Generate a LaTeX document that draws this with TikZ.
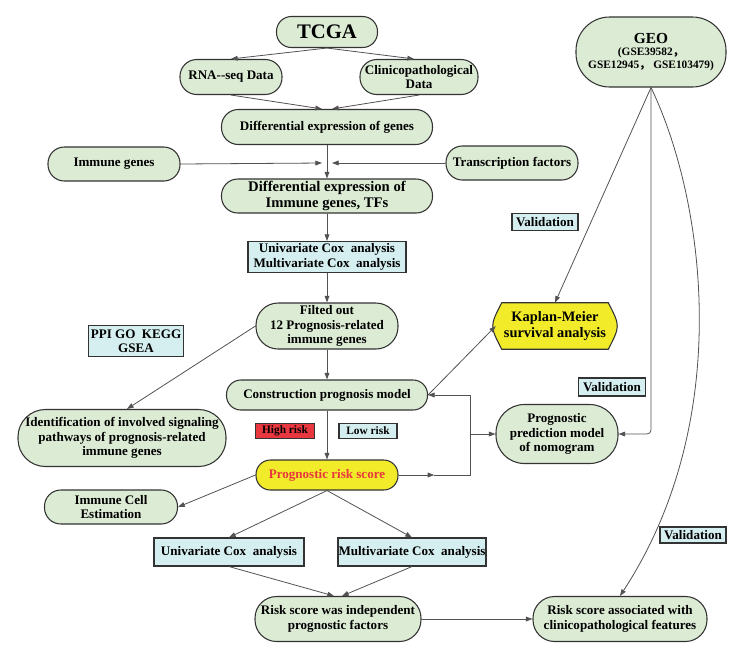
\documentclass[tikz,border=0pt]{standalone}
\usepackage{fontspec}
\setmainfont{Liberation Serif}
\newfontfamily\cjk{Noto Sans CJK SC}
\usetikzlibrary{arrows.meta,positioning,calc,backgrounds}
\definecolor{boxgreen}{HTML}{DCEBD4}
\definecolor{boxcyan}{HTML}{D5EEF0}
\definecolor{kmyellow}{HTML}{F2EB2A}
\definecolor{riskred}{HTML}{E8373E}
\definecolor{edge}{HTML}{333333}

\tikzset{
  st/.style 2 args={draw=edge, fill=boxgreen, line width=0.8pt, inner sep=0pt, align=center,
    font=\bfseries\fontsize{9.8}{10.8}\selectfont,
    minimum width=#1*0.75pt, minimum height=#2*0.75pt, rounded corners=#2*0.36pt},
  bx/.style 2 args={draw=edge, fill=boxcyan, line width=0.8pt, inner sep=0pt, align=center,
    font=\bfseries\fontsize{9.8}{10.8}\selectfont,
    minimum width=#1*0.75pt, minimum height=#2*0.75pt},
  conn/.style={draw=edge!85, line width=0.6pt},
  arr/.style={conn, -{Triangle[length=5pt,width=3.6pt]}},
}

\begin{document}
\begin{tikzpicture}[x=0.75pt,y=-0.75pt]
  \useasboundingbox (0,0) rectangle (756,654);

  % TCGA side
  \node[st={101}{31}, font=\bfseries\fontsize{15.5}{17}\selectfont] (tcga) at (327,32) {TCGA};
  \node[st={102}{35}] (rna) at (231,77) {RNA-{}-seq Data};
  \node[st={118}{35}] (clin) at (419,77) {Clinicopathological\\Data};
  \node[st={211}{35}] (dg) at (327,127) {Differential expression of genes};
  \node[st={132}{34}] (imm) at (114,164) {Immune genes};
  \node[st={132}{34}] (tf) at (512,163) {Transcription factors};
  \coordinate (jn) at (327,163);
  \node[st={211}{34}, font=\bfseries\fontsize{11}{12}\selectfont] (di) at (327,196) {Differential expression of\\Immune genes, TFs};
  \node[bx={158}{31}] (cox) at (327,257) {Univariate Cox~ analysis\\Multivariate Cox~ analysis};
  \node[st={142}{46}] (filt) at (327,326) {Filted out\\12 Prognosis-related\\immune genes};
  \node[bx={95}{31}] (ppi) at (136,341) {PPI GO~ KEGG\\GSEA};
  \node[st={201}{30}] (cons) at (327,395) {Construction prognosis model};
  \node[st={208}{57}] (ident) at (122,438) {Identification of involved signaling\\pathways of prognosis-related\\immune genes};
  \node[bx={59}{15}, fill=riskred, font=\bfseries\fontsize{8.5}{9}\selectfont] (high) at (285,431) {High risk};
  \node[bx={58}{15}, font=\bfseries\fontsize{8.5}{9}\selectfont] (low) at (368,431) {Low risk};
  \node[st={142}{30}, fill=kmyellow, text=riskred] (prog) at (327,475) {Prognostic risk score};
  \node[st={133}{34}] (ice) at (111,507) {Immune Cell\\Estimation};
  \node[bx={150}{28}] (uni) at (229,552) {Univariate Cox~ analysis};
  \node[bx={148}{28}] (multi) at (412,552) {Multivariate Cox~ analysis};
  \node[st={166}{45}] (indep) at (338,619) {Risk score was independent\\prognostic factors};
  \node[st={174}{45}] (assoc) at (620,619) {Risk score associated with\\clinicopathological features};

  % GEO side
  \node[st={150}{70}, font=\bfseries\fontsize{8.5}{9.5}\selectfont] (geo) at (651,52)
    {{\fontsize{11.5}{12}\selectfont GEO}\\(GSE39582{\cjk ，}\\GSE12945{\cjk ，} GSE103479)};
  \node[inner sep=0pt, align=center, minimum width=118*0.75pt, minimum height=46*0.75pt,
    font=\bfseries\fontsize{10.8}{12}\selectfont] (km) at (555,326) {Kaplan-Meier\\survival analysis};
  \begin{scope}[on background layer]
    \filldraw[draw=edge, fill=kmyellow, line width=0.8pt]
      ([xshift=4.5pt]km.north west) -- ([xshift=-4.5pt]km.north east)
      .. controls ([xshift=4.5pt]km.east) .. ([xshift=-4.5pt]km.south east)
      -- ([xshift=4.5pt]km.south west)
      .. controls ([xshift=-4.5pt]km.west) .. ([xshift=4.5pt]km.north west) -- cycle;
  \end{scope}
  \node[st={122}{59}] (nomo) at (557,434) {Prognostic\\prediction model\\of nomogram};
  \node[bx={66}{17}] (val1) at (545,222) {Validation};
  \node[bx={67}{18}] (val2) at (612,387) {Validation};
  \node[bx={66}{16}] (val3) at (693,535) {Validation};

  % connectors
  \draw[arr] (tcga.south) -- (rna.north);
  \draw[arr] (tcga.south) -- ($(clin.north)+(-5,0)$);
  \draw[arr] (rna.south) -- ($(dg.north)+(-5,0)$);
  \draw[arr] (clin.south) -- ($(dg.north)+(5,0)$);
  \draw[arr] (imm.east) -- ($(jn)+(-5,0)$);
  \draw[arr] (tf.west) -- ($(jn)+(5,0)$);
  \draw[arr] (dg.south) -- (di.north);
  \draw[arr] (di.south) -- (cox.north);
  \draw[arr] (cox.south) -- (filt.north);
  \draw[arr] (filt.south) -- (cons.north);
  \draw[arr] (filt.west) -- ($(ident.north)+(5,0)$);
  \draw[arr] (cons.south) -- (prog.north);
  \draw[arr] (cons.east) -- (km.west);
  \draw[arr] (prog.west) -- (ice.east);
  \draw[arr] (prog.south) -- (uni.north);
  \draw[arr] (prog.south) -- (multi.north);
  \draw[arr] (uni.south) -- ($(indep.north)+(-4,0)$);
  \draw[arr] (multi.south) -- ($(indep.north)+(4,0)$);
  \draw[arr] (indep.east) -- (assoc.west);

  % feedback loop
  \coordinate (lpA) at (470,475);
  \coordinate (lpB) at (470,395);
  \coordinate (lpC) at (470,434);
  \draw[arr] (prog.east) -- ($(prog.east)!0.5!(lpA)$);
  \draw[conn] ($(prog.east)!0.5!(lpA)$) -- (lpA) -- (lpB);
  \draw[arr] (lpB) -- (cons.east);
  \draw[arr] (lpC) -- (nomo.west |- lpC);

  % validation from GEO
  \draw[arr] (geo.south) -- (km.north);
  \draw[arr, rounded corners=3pt] (geo.south) -- (geo.south |- nomo.east) -- (nomo.east);
  \draw[arr] (geo.south) .. controls (705,200) and (735,420) .. (assoc.north);
\end{tikzpicture}
\end{document}
